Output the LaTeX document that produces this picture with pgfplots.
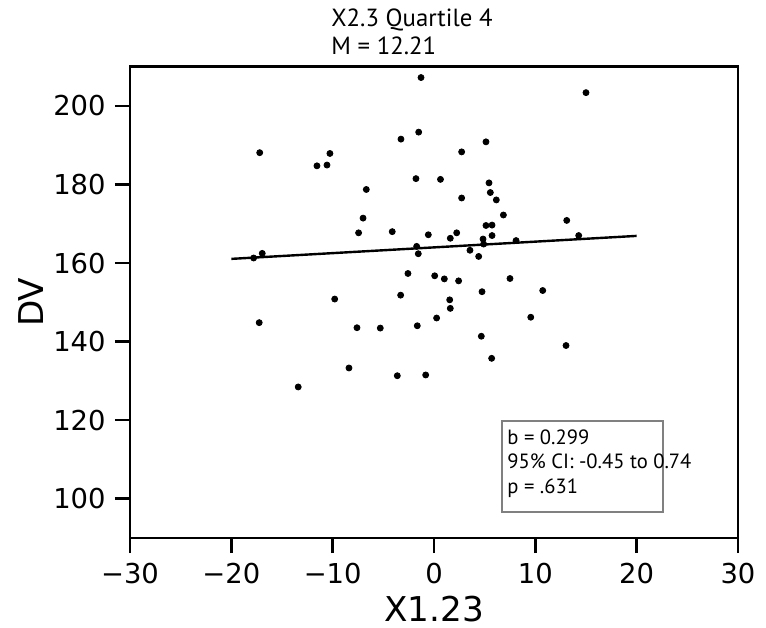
\documentclass[border=0pt]{standalone}
\usepackage{fontspec}
\setmainfont{DejaVu Sans}
\newfontfamily\ptsans{PT Sans}
\usepackage{pgfplots}
\pgfplotsset{compat=1.18}

% scatter data: predictor X1.23 against DV
\pgfplotstableread{
x      y
-1.28  207.24
-1.51  193.34
-3.26  191.56
-17.20 188.11
-10.27 187.91
-11.55 184.76
-10.56 184.96
-1.78  181.50
0.64   181.31
-6.68  178.74
-7.00  171.45
-7.44  167.70
-4.12  168.00
-0.56  167.21
-16.95 162.47
-17.80 161.29
-1.71  164.25
-1.55  162.38
-2.57  157.35
0.07   156.76
-9.80  150.84
-3.29  151.83
-17.25 144.83
-7.60  143.54
-5.30  143.45
-1.65  144.04
0.26   146.01
-8.39  133.29
-3.62  131.32
-0.82  131.51
-13.40 128.46
15.00  203.39
5.13   190.87
2.73   188.31
5.43   180.42
5.56   177.96
2.73   176.57
6.15   176.08
6.85   172.24
13.10  170.86
5.13   169.57
5.73   169.67
2.24   167.70
1.61   166.32
5.73   167.01
4.84   166.12
14.28  167.01
4.90   164.84
8.10   165.73
3.55   163.26
4.41   161.69
1.02   155.97
2.43   155.47
7.50   156.07
4.74   152.71
10.73  153.01
1.55   150.64
1.61   148.47
9.55   146.21
4.67   141.37
13.03  139.01
5.69   135.75
}\points

\begin{document}
\begin{tikzpicture}
\path[use as bounding box] (-65pt,-44.5pt) rectangle (318pt,269pt);
\begin{axis}[
  at={(0pt,0pt)}, anchor=south west,
  scale only axis, width=304pt, height=235.65pt,
  xmin=-30, xmax=30, ymin=90, ymax=210,
  xtick={-30,-20,...,30},
  xticklabels={−30,−20,−10,0,10,20,30},
  ytick={100,120,...,200},
  yticklabels={100,120,140,160,180,200},
  xtick pos=bottom, ytick pos=left,
  tick align=outside,
  major tick length=7.5pt,
  every tick/.style={black, line width=1.3pt},
  axis line style={line width=1.3pt},
  ticklabel style={font=\fontsize{13.7}{16}\selectfont, inner sep=0pt},
  xticklabel style={anchor=north, yshift=-5pt},
  yticklabel style={anchor=east, xshift=-4.5pt},
  xlabel={X1.23}, ylabel={DV},
  label style={font=\fontsize{17.1}{20}\selectfont, inner sep=0pt},
  xlabel style={at={(axis description cs:0.5,-0.1776)}, anchor=base},
  ylabel style={at={(axis description cs:-0.1426,0.5)}, anchor=base},
  clip=false,
]
\addplot[only marks, mark=*, mark size=1.5pt, black] table[x=x, y=y] {\points};
\addplot[black, line width=1.2pt] coordinates {(-20,161.07) (20,166.92)};
\end{axis}
% title block
\node[anchor=base west, inner sep=0pt, font=\ptsans\fontsize{12.4}{14}\selectfont] at (100.5pt,255.65pt) {X2.3 Quartile 4};
\node[anchor=base west, inner sep=0pt, font=\ptsans\fontsize{12.4}{14}\selectfont] at (100.5pt,241.5pt) {M = 12.21};
% statistics box
\draw[line width=1pt, draw={rgb,255:red,128;green,128;blue,128}, fill=white] (186pt,13pt) rectangle (266.5pt,58.5pt);
\node[anchor=base west, inner sep=0pt, font=\ptsans\fontsize{10.3}{12}\selectfont] at (188.5pt,46.5pt) {b = 0.299};
\node[anchor=base west, inner sep=0pt, font=\ptsans\fontsize{10.3}{12}\selectfont] at (188.5pt,34.85pt) {95\% CI: -0.45 to 0.74};
\node[anchor=base west, inner sep=0pt, font=\ptsans\fontsize{10.3}{12}\selectfont] at (188.5pt,22.35pt) {p = .631};
\end{tikzpicture}
\end{document}
